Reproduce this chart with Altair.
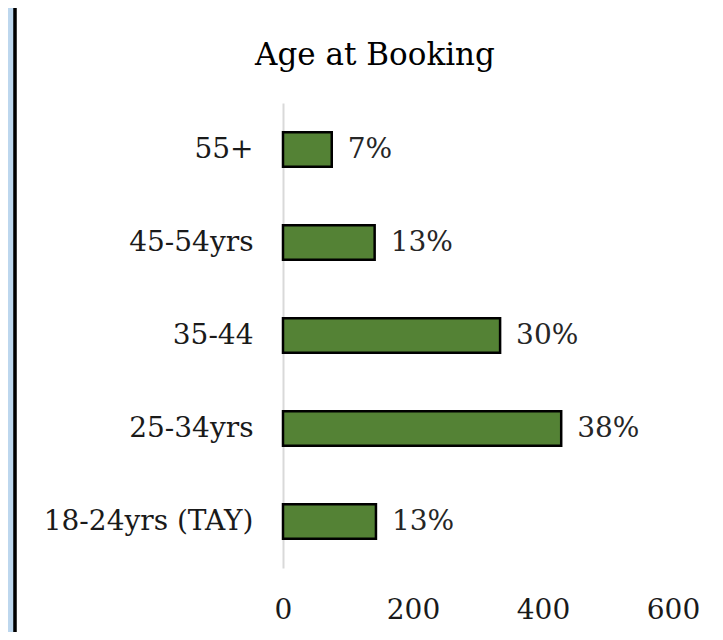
import altair as alt
import pandas as pd

categories = ["55+", "45-54yrs", "35-44", "25-34yrs", "18-24yrs (TAY)"]
counts = [75, 141, 334, 428, 143]
pct_labels = ["7%", "13%", "30%", "38%", "13%"]
title_text = ["Age at Booking"]

df = pd.DataFrame({"cat": categories, "n": counts, "pct": pct_labels})
tdf = pd.DataFrame({"t": title_text})

FONT = "DejaVu Serif"
W, H = 390, 465
PL, PT = 275, 95
TOTAL_W, TOTAL_H = 707, 624

y_enc = alt.Y("cat:N", sort=categories, title=None,
              scale=alt.Scale(paddingInner=0.63, paddingOuter=0.315),
              axis=alt.Axis(domainColor="#D9D9D9", domainWidth=2, ticks=False,
                            labelFont=FONT, labelFontSize=28, labelColor="#1a1a1a",
                            labelPadding=30, grid=False, labelLimit=400))
x_enc = alt.X("n:Q", title=None,
              scale=alt.Scale(domain=[0, 600], nice=False),
              axis=alt.Axis(values=[0, 200, 400, 600], domain=False, ticks=False, grid=False,
                            labelFont=FONT, labelFontSize=28, labelColor="#1a1a1a",
                            labelPadding=28, labelFlush=False))

# decorative frame: blue strip at left and black border line
strip = alt.Chart(df).mark_rect(color="#BDD7EE").encode(
    x=alt.value(-PL), x2=alt.value(-PL + 6), y=alt.value(-PT), y2=alt.value(TOTAL_H - PT)
)
border = alt.Chart(df).mark_rule(color="black", strokeWidth=2.5).encode(
    x=alt.value(-PL + 7), y=alt.value(-PT), y2=alt.value(TOTAL_H - PT)
)

title = alt.Chart(tdf).mark_text(font=FONT, fontSize=31, color="black",
                                 align="center", baseline="middle").encode(
    x=alt.value(92), y=alt.value(-47), text="t:N"
)

bars = alt.Chart(df).mark_bar(color="#548235", stroke="black", strokeWidth=2.5).encode(
    y=y_enc, x=x_enc
)
labels = alt.Chart(df).mark_text(align="left", baseline="middle", dx=16,
                                 font=FONT, fontSize=28, color="#262626").encode(
    y=alt.Y("cat:N", sort=categories), x=alt.X("n:Q"), text="pct:N"
)

chart = alt.layer(strip, border, title, bars, labels).properties(
    width=W, height=H,
    autosize=alt.AutoSizeParams(type="none"),
    padding={"left": PL, "top": PT, "right": TOTAL_W - PL - W, "bottom": TOTAL_H - PT - H},
    background="white",
).configure_view(stroke=None)

chart.save("out.html", embed_options={"renderer": "svg", "actions": False})
